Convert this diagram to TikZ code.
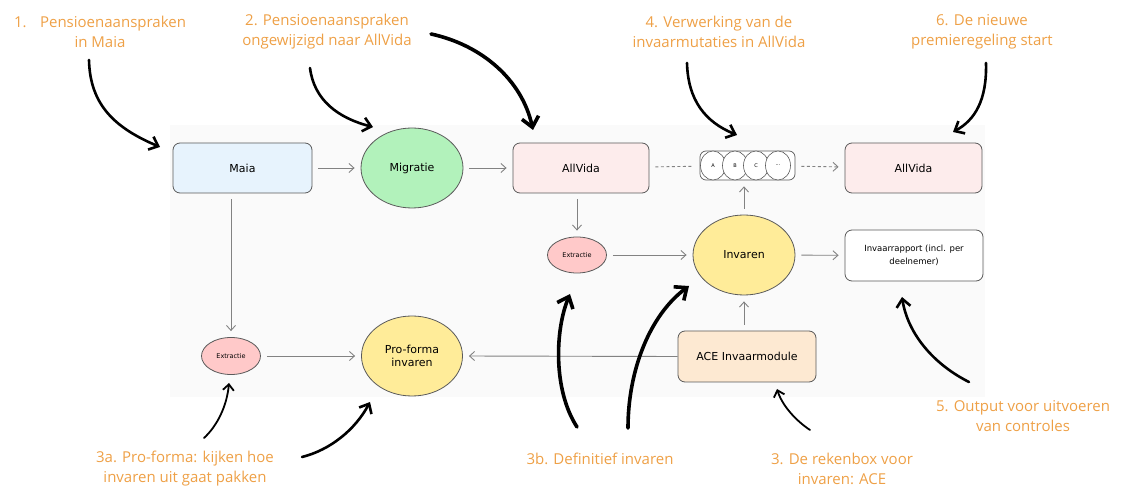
\documentclass[tikz,border=0pt]{standalone}
\usepackage{fontspec}
\setmainfont{Open Sans}
\newfontfamily\handfont{DejaVu Sans}
\usetikzlibrary{arrows.meta,shapes.geometric}
\definecolor{ann}{RGB}{238,160,70}
\definecolor{blueF}{RGB}{231,243,253}
\definecolor{pinkF}{RGB}{253,236,236}
\definecolor{greenF}{RGB}{178,242,187}
\definecolor{redF}{RGB}{255,201,201}
\definecolor{yellowF}{RGB}{255,236,153}
\definecolor{peachF}{RGB}{253,233,210}
\definecolor{edge}{RGB}{90,90,90}
\definecolor{conn}{RGB}{130,130,130}
\tikzset{
  rbox/.style={draw=edge, line width=0.8pt, rounded corners=7pt, font=\handfont\fontsize{11}{13}\selectfont, align=center, inner sep=0pt},
  oval/.style={ellipse, draw=edge, line width=0.8pt, font=\handfont\fontsize{11}{13}\selectfont, align=center, inner sep=0pt},
  qcirc/.style={ellipse, draw=edge, line width=0.6pt, fill=white, minimum width=25pt, minimum height=29pt, inner sep=0pt, font=\handfont\fontsize{5}{6}\selectfont},
  smalltxt/.style={font=\handfont\fontsize{8.5}{11}\selectfont, inner sep=0pt, anchor=center},
  conn/.style={draw=conn, line width=0.9pt, shorten <=6pt, shorten >=6pt, -{Straight Barb[length=5pt,width=9pt]}},
  dconn/.style={draw=conn, line width=0.9pt, dashed, dash pattern=on 3pt off 2.5pt, shorten <=6pt, shorten >=6pt},
  anntext/.style={text=ann, font=\fontsize{15}{20}\selectfont, align=center, inner sep=0pt},
  bigarrow/.style={draw=black, line width=3.6pt, line cap=round, -{Straight Barb[length=10pt,width=17pt]}},
  midarrow/.style={draw=black, line width=2.6pt, line cap=round, -{Straight Barb[length=8pt,width=14pt]}},
  thinarrow/.style={draw=black, line width=1.8pt, line cap=round, -{Straight Barb[length=6pt,width=11pt]}},
}
\begin{document}
\begin{tikzpicture}[x=1pt,y=-1pt]
\useasboundingbox (0,0) rectangle (1128,486);
\fill[black!2] (170,125) rectangle (985,397);

% main nodes
\node[rbox, fill=blueF, minimum width=139pt, minimum height=50pt] (maia) at (242.5,168) {Maia};
\node[oval, fill=greenF, minimum width=102pt, minimum height=80pt] (migr) at (412,168) {Migratie};
\node[rbox, fill=pinkF, minimum width=136pt, minimum height=50pt] (av1) at (581,168) {AllVida};
\node[draw=edge, line width=0.7pt, rounded corners=6pt, fill=white, minimum width=95pt, minimum height=29pt, inner sep=0pt] (queue) at (747.5,165.5) {};
\node[qcirc] (qa) at (713,165.5) {A};
\node[qcirc] (qb) at (735,165.5) {B};
\node[qcirc] (qc) at (756,165.5) {C};
\node[qcirc] (qd) at (778,165.5) {...};
\node[rbox, fill=pinkF, minimum width=137pt, minimum height=50pt] (av2) at (913.5,168) {AllVida};

\node[oval, fill=redF, minimum width=59pt, minimum height=36pt, font=\handfont\fontsize{6.5}{8}\selectfont] (ex2) at (577,255) {Extractie};
\node[oval, fill=yellowF, minimum width=102pt, minimum height=80pt] (inv) at (744,255) {Invaren};
\node[rbox, fill=white, minimum width=138pt, minimum height=51pt] (rap) at (914,255.5) {};
\node[smalltxt] (rapl1) at (914,249) {Invaarrapport (incl. per};
\node[smalltxt] (rapl2) at (914,262) {deelnemer)};

\node[oval, fill=redF, minimum width=59pt, minimum height=37pt, font=\handfont\fontsize{6.5}{8}\selectfont] (ex1) at (231,356) {Extractie};
\node[oval, fill=yellowF, minimum width=101pt, minimum height=80pt] (pro) at (412,356) {Pro-forma\\invaren};
\node[rbox, fill=peachF, minimum width=138pt, minimum height=51pt] (ace) at (747,356.5) {ACE Invaarmodule};

% connectors
\draw[conn] (maia) -- (migr);
\draw[conn] (migr) -- (av1);
\draw[dconn] (av1) -- (queue);
\draw[dconn, -{Straight Barb[length=5pt,width=9pt]}] (queue) -- (av2);
\draw[conn] (maia.south -| ex1.north) -- (ex1.north);
\draw[conn] (av1.south -| ex2.north) -- (ex2.north);
\draw[conn] (ex2) -- (inv);
\draw[conn] (inv.north) -- (queue.south -| inv.north);
\draw[conn] (inv) -- (rap);
\draw[conn] (ace.north -| inv.south) -- (inv.south);
\draw[conn, shorten <=0pt] (ace.west) -- (pro.east);
\draw[conn] (ex1) -- (pro);

% annotation texts
\node[anntext] (t1) at (100,32) {1.\hspace{0.9em}Pensioenaanspraken\\in Maia};
\node[anntext] (t2) at (327,32) {2. Pensioenaanspraken\\ongewijzigd naar AllVida};
\node[anntext] (t4) at (719,32) {4. Verwerking van de\\invaarmutaties in AllVida};
\node[anntext] (t6) at (982,32) {6. De nieuwe\\premieregeling start};
\node[anntext] (t3a) at (185,469) {3a. Pro-forma: kijken hoe\\invaren uit gaat pakken};
\node[anntext] (t3b) at (600,459) {3b. Definitief invaren};
\node[anntext] (t3) at (842,469) {3. De rekenbox voor\\invaren: ACE};
\node[anntext] (t5) at (1023,416) {5. Output voor uitvoeren\\van controles};

% annotation arrow coordinates
\coordinate (s1) at (89,60);   \coordinate (e1) at (160,147);
\coordinate (s2) at (310,68);  \coordinate (e2) at (373,127);
\coordinate (s3) at (431,34);  \coordinate (e3) at (533,130);
\coordinate (s4) at (687,63);  \coordinate (e4) at (737,135);
\coordinate (s6) at (986,63);  \coordinate (e6) at (953,132);
\coordinate (sa1) at (204,438); \coordinate (ea1) at (229,383);
\coordinate (sa2) at (302,457); \coordinate (ea2) at (370,402);
\coordinate (sb1) at (577,427); \coordinate (eb1) at (570,294);
\coordinate (sb2) at (628,428); \coordinate (eb2) at (689,286);
\coordinate (sr) at (810,430);  \coordinate (er) at (777,389);
\coordinate (s5) at (969,382);  \coordinate (e5) at (902,297);

\draw[midarrow] (s1) .. controls (90,105) and (115,128) .. (e1);
\draw[midarrow] (s2) .. controls (314,100) and (338,118) .. (e2);
\draw[bigarrow] (s3) .. controls (482,45) and (522,80) .. (e3);
\draw[midarrow] (s4) .. controls (688,100) and (705,122) .. (e4);
\draw[midarrow] (s6) .. controls (987,100) and (975,120) .. (e6);
\draw[thinarrow] (sa1) .. controls (218,425) and (227,405) .. (ea1);
\draw[midarrow] (sa2) .. controls (330,450) and (355,430) .. (ea2);
\draw[bigarrow] (sb1) .. controls (553,390) and (555,330) .. (eb1);
\draw[bigarrow] (sb2) .. controls (628,370) and (650,315) .. (eb2);
\draw[thinarrow] (sr) .. controls (795,420) and (782,405) .. (er);
\draw[midarrow] (s5) .. controls (935,365) and (908,335) .. (e5);
\end{tikzpicture}
\end{document}
